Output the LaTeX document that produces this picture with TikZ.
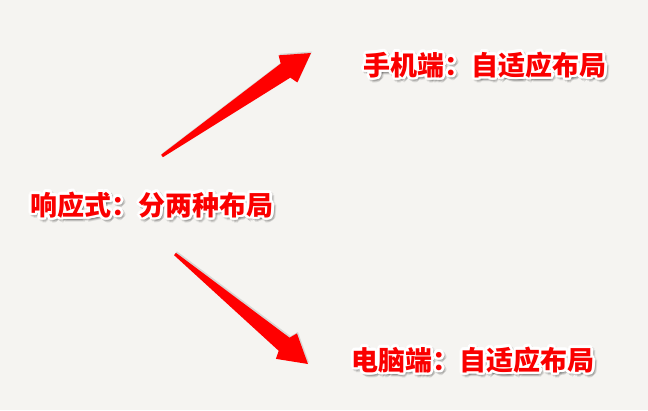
\documentclass[tikz,border=0pt]{standalone}
\usepackage{fontspec}
\newfontfamily\cjk{Noto Sans CJK SC}
\usetikzlibrary{calc,shadows}
\definecolor{paper}{RGB}{245,244,241}
\definecolor{arrowred}{RGB}{255,0,0}
\definecolor{textred}{RGB}{250,0,0}
\tikzset{
  lbl/.style={font=\cjk\bfseries\fontsize{27}{30}\selectfont, inner sep=0pt, text=textred},
  halo/.style={lbl, text=white},
  shade/.style={lbl, text=black, text opacity=0.10},
  arrowfill/.style={fill=arrowred, drop shadow={opacity=0.25, shadow xshift=1pt, shadow yshift=1.5pt}}
}
\newcommand\halolabel[3]{%
  \foreach \a in {0,30,...,330}{\node[shade] at ($(#2)+(1.5,2)+(\a:3)$) {#3};}
  \foreach \a in {0,22.5,...,337.5}{\node[halo] at ($(#2)+(\a:2.6)$) {#3};}
  \node[lbl] (#1) at (#2) {#3};}
\newcommand\fatarrow[2]{%
  \path ($(#2)!31pt!(#1)$) coordinate (nk) ($(#2)!28pt!(#1)$) coordinate (hb);
  \fill[arrowfill] ($(#1)!1.5pt!90:(#2)$) -- ($(nk)!8.5pt!90:(#2)$) -- ($(hb)!16.5pt!90:(#2)$) -- (#2)
    -- ($(hb)!16.5pt!-90:(#2)$) -- ($(nk)!8.5pt!-90:(#2)$) -- ($(#1)!1.5pt!-90:(#2)$) -- cycle;}
\begin{document}
\begin{tikzpicture}[x=1pt,y=-1pt]
\fill[paper] (0,0) rectangle (648,410);
\useasboundingbox (0,0) rectangle (648,410);
\halolabel{main}{152,205}{响应式：分两种布局}
\halolabel{phone}{485,65}{手机端：自适应布局}
\halolabel{pc}{473,360}{电脑端：自适应布局}
\coordinate (u1) at (162,156);
\coordinate (u2) at (311,53);
\coordinate (d1) at (175,254);
\coordinate (d2) at (308,364);
\fatarrow{u1}{u2}
\fatarrow{d1}{d2}
\end{tikzpicture}
\end{document}
